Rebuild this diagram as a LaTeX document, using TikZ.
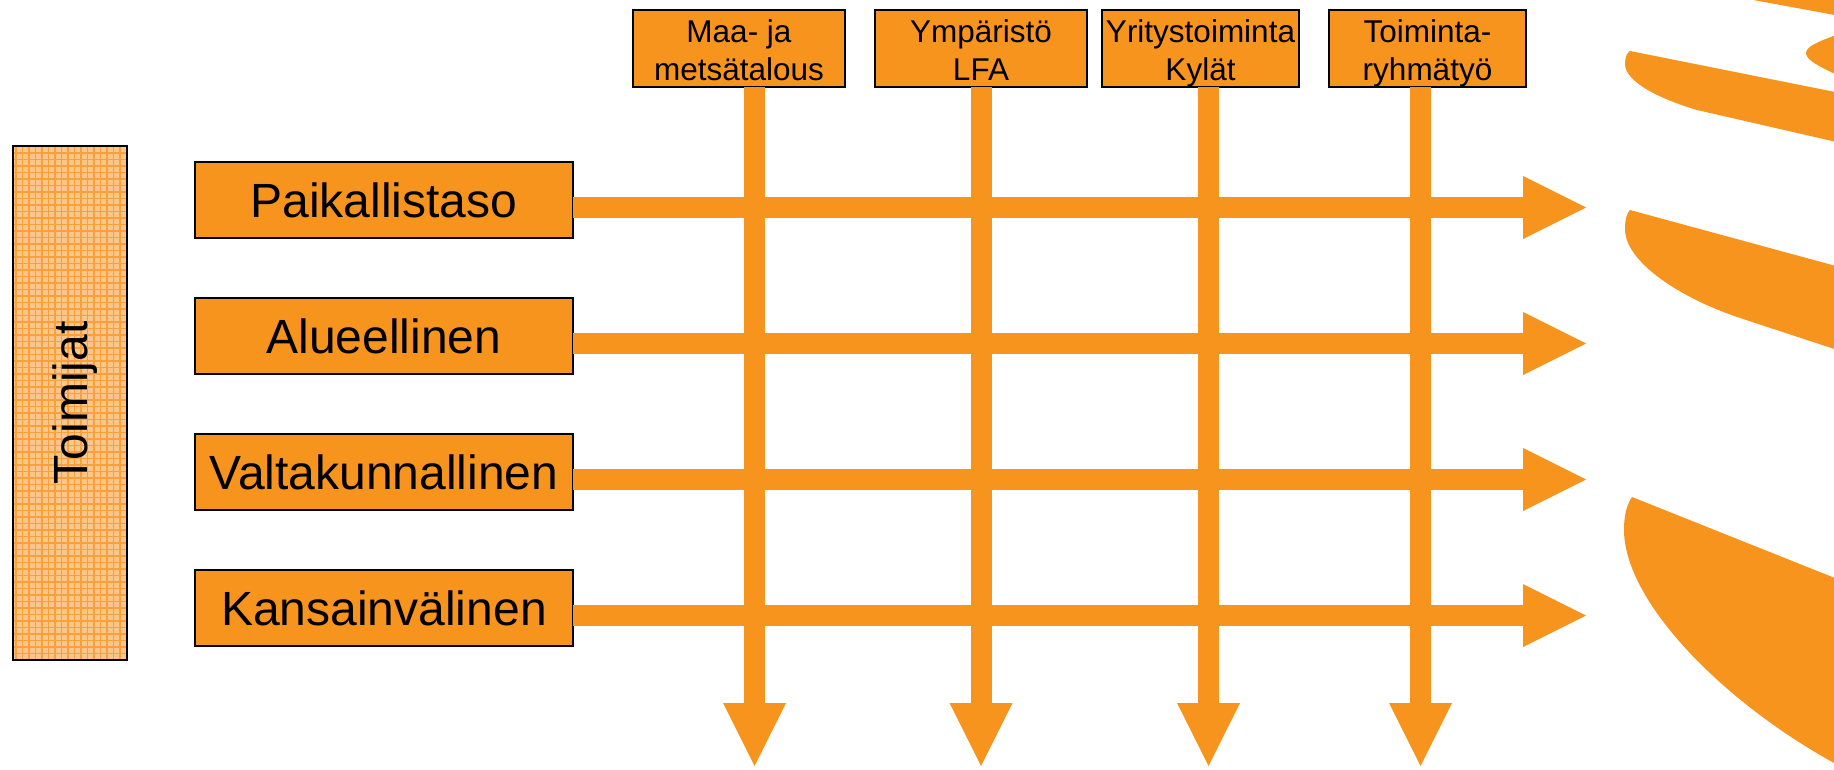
\documentclass[tikz,border=0pt]{standalone}
\usepackage{fontspec}
\setmainfont{Liberation Sans}
\usetikzlibrary{arrows.meta}
\definecolor{org}{RGB}{247,148,30}
\definecolor{peach}{RGB}{252,198,138}
\definecolor{gridor}{RGB}{248,160,60}
\newcommand{\nodepth}[1]{\raisebox{0pt}[\height][0pt]{#1}}
\newcommand{\firstline}{\rule{0pt}{25pt}}
\begin{document}
\begin{tikzpicture}[x=1pt,y=-1pt,
  box/.style={draw=black, line width=2pt, fill=org, inner sep=0pt, outer sep=0pt, anchor=north west},
  levelbox/.style={box, minimum width=378pt, minimum height=76pt, font=\fontsize{48}{58}\selectfont},
  topbox/.style={box, minimum height=77pt, align=center, font=\fontsize{31.5}{38}\selectfont},
  blockarrow/.style={draw=org, line width=21pt, -{Triangle[width=63pt,length=63pt,line width=0pt]}},
  blade/.style={fill=org, draw=none},
  actorbox/.style={draw=black, line width=2pt, fill=peach, rotate=90, inner sep=0pt, outer sep=0pt,
    minimum width=514pt, minimum height=114pt, font=\fontsize{48}{58}\selectfont,
    path picture={\draw[gridor, line width=1.3pt, step=6.5pt] (path picture bounding box.south west) grid (path picture bounding box.north east);}},
]
\clip (0,0) rectangle (1834,769);
\useasboundingbox (0,0) rectangle (1834,769);

% blades on the right
\fill[blade] (1700,-9.8) -- (1900,27) -- (1900,-60) -- (1700,-60) -- cycle;
\fill[blade] (1860,27) .. controls (1820,40) and (1806,46) .. (1806,53) .. controls (1806,60) and (1818,67) .. (1860,85) -- cycle;
\fill[blade] (1630,51) -- (1880,101) -- (1880,152) -- (1697,110) .. controls (1660,99) and (1625,82) .. (1625,64) .. controls (1625,57) and (1627,53) .. (1630,51) -- cycle;
\fill[blade] (1630,210) -- (1880,278) -- (1880,364) -- (1740,318) .. controls (1680,298) and (1625,262) .. (1625,229) .. controls (1625,219) and (1627,213) .. (1630,210) -- cycle;
\fill[blade] (1632,497) -- (1880,596) -- (1880,800) -- (1834,763) .. controls (1720,700) and (1624,600) .. (1624,530) .. controls (1624,512) and (1628,503) .. (1632,497) -- cycle;

% actor box
\node[actorbox] (t) at (70,403) {\nodepth{Toimijat}};

% level boxes
\node[levelbox] (p) at (195,162) {Paikallistaso};
\node[levelbox] (a) at (195,298) {Alueellinen};
\node[levelbox] (v) at (195,434) {Valtakunnallinen};
\node[levelbox] (k) at (195,570) {Kansainvälinen};

% top boxes
\node[topbox, minimum width=212pt] (m) at (633,10) {\firstline Maa- ja\\\nodepth{metsätalous}};
\node[topbox, minimum width=212pt] (y) at (875,10) {\firstline Ympäristö\\\nodepth{LFA}};
\node[topbox, minimum width=197pt] (r) at (1102,10) {\firstline Yritystoiminta\\\nodepth{Kylät}};
\node[topbox, minimum width=197pt] (g) at (1329,10) {\firstline Toiminta-\\\nodepth{ryhmätyö}};

% arrow end points
\coordinate (e1) at (1586,207.5);
\coordinate (e2) at (1586,343.5);
\coordinate (e3) at (1586,479.5);
\coordinate (e4) at (1586,615.5);
\coordinate (d1) at (754.5,766);
\coordinate (d2) at (981,766);
\coordinate (d3) at (1208.5,766);
\coordinate (d4) at (1420.5,766);

% arrows
\draw[blockarrow] (p.east |- e1) -- (e1);
\draw[blockarrow] (a.east |- e2) -- (e2);
\draw[blockarrow] (v.east |- e3) -- (e3);
\draw[blockarrow] (k.east |- e4) -- (e4);
\draw[blockarrow] (m.south -| d1) -- (d1);
\draw[blockarrow] (y.south -| d2) -- (d2);
\draw[blockarrow] (r.south -| d3) -- (d3);
\draw[blockarrow] (g.south -| d4) -- (d4);
\end{tikzpicture}
\end{document}
